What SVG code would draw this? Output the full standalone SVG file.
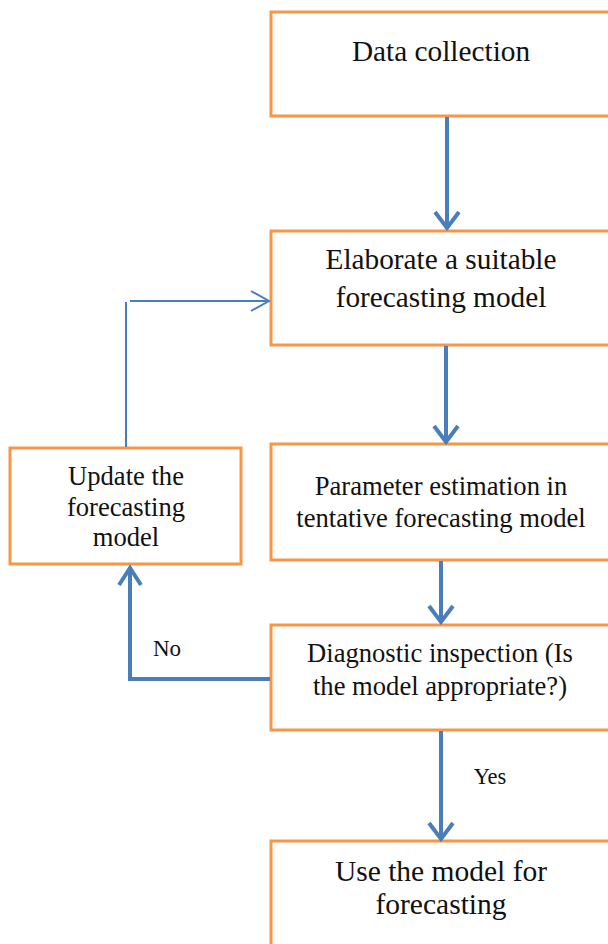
<svg xmlns="http://www.w3.org/2000/svg" width="608" height="944" viewBox="0 0 608 944">
<style>
.box{fill:#fff;stroke:#F79646;stroke-width:3}
.t{font-family:'Liberation Serif','Times New Roman','DejaVu Serif',serif;fill:#111;text-anchor:middle}
.thick{fill:none;stroke:#4A7EBB;stroke-width:4}
.thin{fill:none;stroke:#4A7EBB;stroke-width:2}
</style>
<g id="n1"><rect class="box" x="271" y="12" width="345" height="104"/>
<text class="t" x="441" y="61" font-size="29.3">Data collection</text></g>
<g id="n2"><rect class="box" x="271" y="231" width="345" height="114"/>
<text class="t" x="441" y="269" font-size="29.3">Elaborate a suitable</text>
<text class="t" x="441" y="307" font-size="29.3">forecasting model</text></g>
<g id="n3"><rect class="box" x="271" y="444" width="345" height="116"/>
<text class="t" x="441" y="495" font-size="26.6">Parameter estimation in</text>
<text class="t" x="441" y="527" font-size="26.6">tentative forecasting model</text></g>
<g id="n4"><rect class="box" x="271" y="625" width="345" height="105"/>
<text class="t" x="440" y="662" font-size="26.6">Diagnostic inspection (Is</text>
<text class="t" x="440" y="695" font-size="26.6">the model appropriate?)</text></g>
<g id="n5"><rect class="box" x="271" y="841" width="345" height="120"/>
<text class="t" x="441" y="881" font-size="29.5">Use the model for</text>
<text class="t" x="441" y="914" font-size="29.5">forecasting</text></g>
<g id="n6"><rect class="box" x="10" y="448" width="231" height="116"/>
<text class="t" x="126" y="485" font-size="26.6">Update the</text>
<text class="t" x="126" y="516" font-size="26.6">forecasting</text>
<text class="t" x="126" y="546" font-size="26.6">model</text></g>
<g id="connectors">
<path class="thick" d="M447 117V228M435 212L447 228L459 212"/>
<path class="thick" d="M446 346V442M434 426L446 442L458 426"/>
<path class="thick" d="M441 561V622M429 606L441 622L453 606"/>
<path class="thick" d="M441 731V839M429 823L441 839L453 823"/>
<path class="thick" d="M270 679H130V567M119 585L130 568L141 585"/>
<path class="thin" d="M126 447V302M130 301H268M251 291L269 301L251 311"/>
<text class="t" x="167" y="656" font-size="23">No</text>
<text class="t" x="490" y="784" font-size="22.5">Yes</text>
</g>
</svg>
